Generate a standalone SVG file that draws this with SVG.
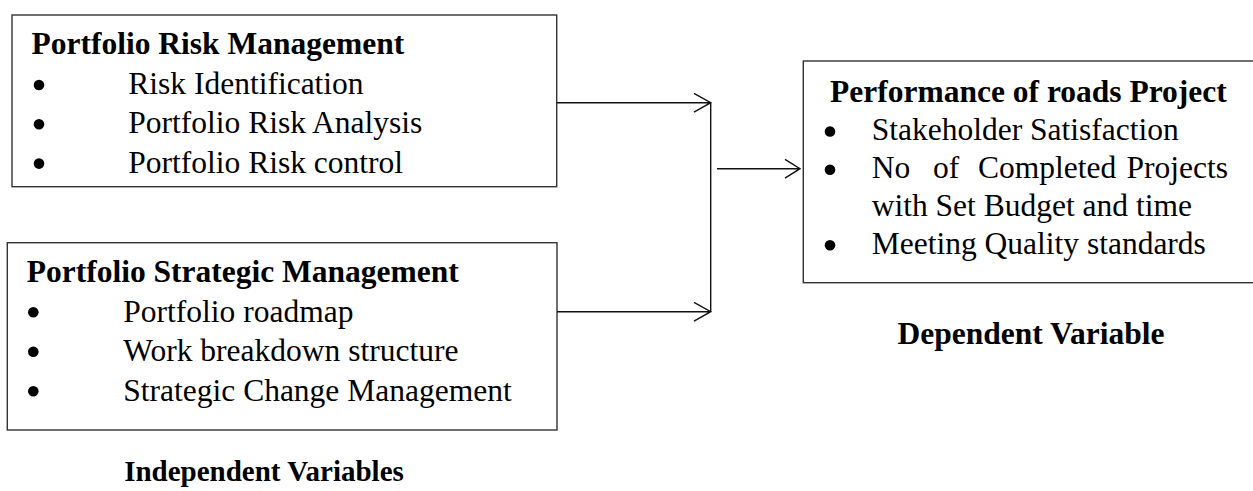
<svg xmlns="http://www.w3.org/2000/svg" width="1253" height="491" viewBox="0 0 1253 491">
<style>
.box{fill:#fff;stroke:#333;stroke-width:1.4}
.t{font-family:"Liberation Serif","Times New Roman",serif;font-size:31.5px;fill:#000}
.b{font-weight:bold}
.dot{fill:#000}
.c{fill:none;stroke:#111;stroke-width:1.4}
</style>
<rect width="1253" height="491" fill="#fff"/>
<g id="risk">
<rect class="box" x="12" y="15" width="544.7" height="171.7"/>
<text class="t b" x="31.5" y="54.3">Portfolio Risk Management</text>
<circle class="dot" cx="39" cy="85" r="5.3"/>
<text class="t" x="128.3" y="94">Risk Identification</text>
<circle class="dot" cx="39" cy="124.3" r="5.3"/>
<text class="t" x="128.3" y="133.3">Portfolio Risk Analysis</text>
<circle class="dot" cx="39" cy="163.6" r="5.3"/>
<text class="t" x="128.3" y="172.6">Portfolio Risk control</text>
</g>
<g id="strategic">
<rect class="box" x="7.3" y="242.7" width="549.7" height="187.3"/>
<text class="t b" x="26.7" y="282">Portfolio Strategic Management</text>
<circle class="dot" cx="33.3" cy="312.2" r="5.3"/>
<text class="t" x="123.3" y="321.5">Portfolio roadmap</text>
<circle class="dot" cx="33.3" cy="351.7" r="5.3"/>
<text class="t" x="123.3" y="361">Work breakdown structure</text>
<circle class="dot" cx="33.3" cy="391.2" r="5.3"/>
<text class="t" x="123.3" y="400.5">Strategic Change Management</text>
</g>
<g id="performance">
<rect class="box" x="803.3" y="61" width="460" height="221.7"/>
<text class="t b" x="830" y="101.7">Performance of roads Project</text>
<circle class="dot" cx="830" cy="131.5" r="5.3"/>
<text class="t" x="871.7" y="140">Stakeholder Satisfaction</text>
<circle class="dot" cx="830" cy="169.8" r="5.3"/>
<text class="t" y="178.3"><tspan x="871.7">No</tspan><tspan x="933">of</tspan><tspan x="978">Completed</tspan><tspan x="1228" text-anchor="end">Projects</tspan></text>
<text class="t" x="871.7" y="216">with Set Budget and time</text>
<circle class="dot" cx="830" cy="245.2" r="5.3"/>
<text class="t" x="871.7" y="253.7">Meeting Quality standards</text>
</g>
<g id="label-dependent">
<text class="t b" x="1031" y="343.5" text-anchor="middle">Dependent Variable</text>
</g>
<g id="label-independent">
<text class="t b" x="264" y="481" text-anchor="middle" style="font-size:29px">Independent Variables</text>
</g>
<g id="connectors">
<path class="c" d="M556.7 102.7 H710.7 M694 93.3 L710.7 102.7 L694 112.1"/>
<path class="c" d="M557 311.7 H710.7 M694 302.3 L710.7 311.7 L694 321.1"/>
<path class="c" d="M710.7 102.7 V311.7"/>
<path class="c" d="M717 168.7 H800 M785 159.3 L800 168.7 L785 178.1"/>
</g>
</svg>
